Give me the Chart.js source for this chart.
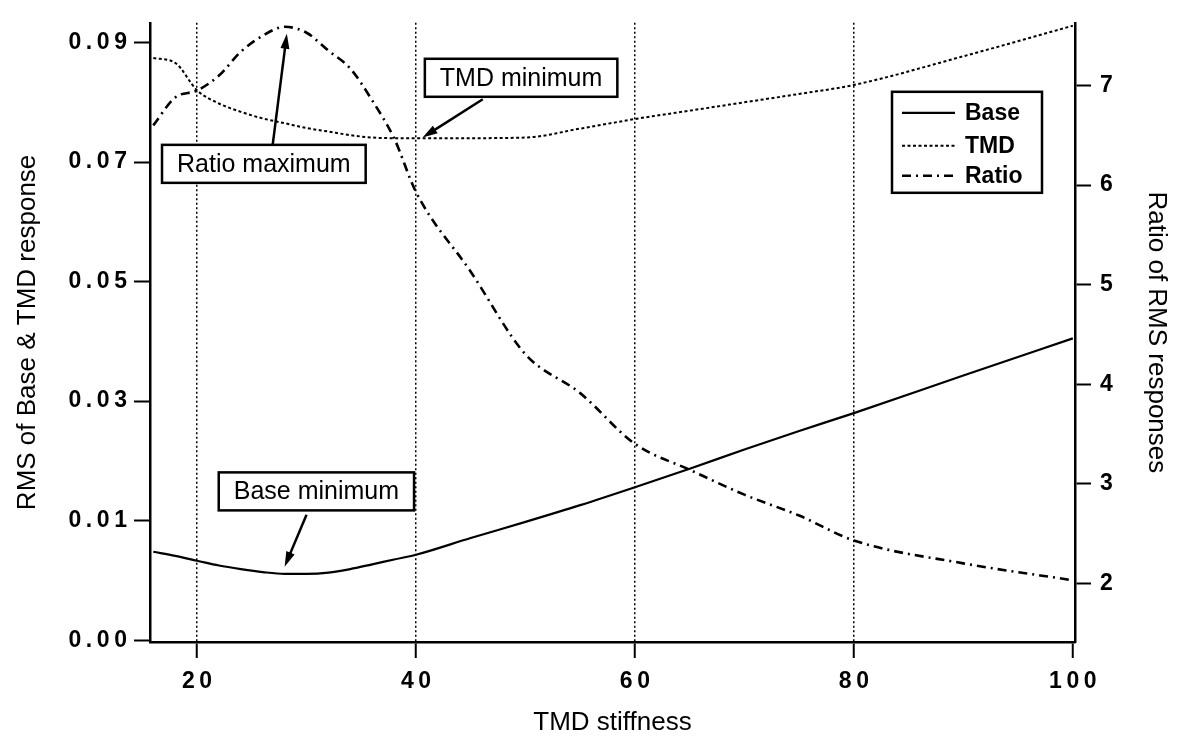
<!DOCTYPE html>
<html>
<head>
<meta charset="utf-8">
<script src="https://cdn.jsdelivr.net/npm/chart.js@4.4.1/dist/chart.umd.min.js"></script>
<style>
    html, body { margin: 0; padding: 0; background: #fff; }
</style>
</head>
<body>
<canvas id="myChart" width="1181" height="738"></canvas>
<script>
// values
var stiffness = [16, 18, 20, 22, 24, 26, 28, 30, 32, 34, 36, 38, 40, 45, 50, 55, 60, 65, 70, 75, 80, 90, 100];
var baseRms = [0.0048, 0.0041, 0.0033, 0.0025, 0.0019, 0.0014, 0.0011, 0.0011, 0.0013, 0.0019, 0.0027, 0.0035, 0.0043, 0.0071, 0.0098, 0.0126, 0.0156, 0.0187, 0.0219, 0.0250, 0.0280, 0.0343, 0.0405];
var tmdRms = [0.0874, 0.0866, 0.0820, 0.0798, 0.0784, 0.0773, 0.0765, 0.0757, 0.0751, 0.0745, 0.0741, 0.0740, 0.0740, 0.0740, 0.0741, 0.0756, 0.0772, 0.0786, 0.0800, 0.0814, 0.0829, 0.0877, 0.0928];
var ratioRms = [6.60, 6.88, 6.95, 7.10, 7.34, 7.50, 7.59, 7.53, 7.35, 7.17, 6.85, 6.47, 5.93, 5.13, 4.30, 3.91, 3.40, 3.14, 2.89, 2.68, 2.43, 2.20, 2.03];

var xTicks = [20, 40, 60, 80, 100];
var leftTickValues = [-0.01, 0.01, 0.03, 0.05, 0.07, 0.09];
var leftTickLabels = ["0.00", "0.01", "0.03", "0.05", "0.07", "0.09"];
var rightTicks = [2, 3, 4, 5, 6, 7];

var seriesNames = ["Base", "TMD", "Ratio"];

// callouts: box centre and arrow tail in left-axis units, arrow tip on its own axis
var notes = [
    { text: "Ratio maximum", x: 26.1, y: 0.0697, tailX: 26.9, tailY: 0.0728, tipX: 28.2, tipY: 7.52, tipAxis: "yRatio" },
    { text: "TMD minimum", x: 49.6, y: 0.0841, tailX: 46.1, tailY: 0.0805, tipX: 40.6, tipY: 0.0741, tipAxis: "y" },
    { text: "Base minimum", x: 30.9, y: 0.0149, tailX: 30.0, tailY: 0.0110, tipX: 28.0, tipY: 0.0023, tipAxis: "y" },
];

var FONT = "'Liberation Sans', Arial, sans-serif";
Chart.defaults.font.family = FONT;
Chart.defaults.color = "#000";

function spaced(s) {
    return s.split("").join("\u2009");
}

function toPoints(values) {
    var pts = [];
    for (var i = 0; i < stiffness.length; i++) {
        pts.push({ x: stiffness[i], y: values[i] });
    }
    return pts;
}

var dashes = {
    Base: [],
    TMD: [3, 2.5],
    Ratio: [9, 5, 2, 5],
};

function drawArrow(ctx, x1, y1, x2, y2) {
    var ang = Math.atan2(y2 - y1, x2 - x1);
    var head = 15;
    ctx.beginPath();
    ctx.moveTo(x1, y1);
    ctx.lineTo(x2 - Math.cos(ang) * head * 0.8, y2 - Math.sin(ang) * head * 0.8);
    ctx.stroke();
    ctx.beginPath();
    ctx.moveTo(x2, y2);
    ctx.lineTo(x2 - head * Math.cos(ang) + 4.5 * Math.sin(ang), y2 - head * Math.sin(ang) - 4.5 * Math.cos(ang));
    ctx.lineTo(x2 - head * Math.cos(ang) - 4.5 * Math.sin(ang), y2 - head * Math.sin(ang) + 4.5 * Math.cos(ang));
    ctx.closePath();
    ctx.fill();
}

var calloutPlugin = {
    id: "callouts",
    afterDatasetsDraw: function (chart) {
        var ctx = chart.ctx;
        var xs = chart.scales.x;
        ctx.save();
        ctx.font = "25px " + FONT;
        ctx.strokeStyle = "#000";
        ctx.fillStyle = "#000";
        ctx.lineWidth = 2.5;
        notes.forEach(function (n) {
            var cx = xs.getPixelForValue(n.x);
            var cy = chart.scales.y.getPixelForValue(n.y);
            var w = ctx.measureText(n.text).width + 30;
            var h = 38;
            ctx.fillStyle = "#fff";
            ctx.fillRect(cx - w / 2, cy - h / 2, w, h);
            ctx.strokeRect(cx - w / 2, cy - h / 2, w, h);
            ctx.fillStyle = "#000";
            ctx.textAlign = "center";
            ctx.textBaseline = "middle";
            ctx.fillText(n.text, cx, cy + 1);
            drawArrow(
                ctx,
                xs.getPixelForValue(n.tailX),
                chart.scales.y.getPixelForValue(n.tailY),
                xs.getPixelForValue(n.tipX),
                chart.scales[n.tipAxis].getPixelForValue(n.tipY)
            );
        });

        // legend box, top right inside the plot
        var area = chart.chartArea;
        var bx = area.right - 183;
        var by = area.top + 69;
        ctx.lineWidth = 2.5;
        ctx.fillStyle = "#fff";
        ctx.fillRect(bx, by, 150, 101);
        ctx.strokeRect(bx, by, 150, 101);
        ctx.fillStyle = "#000";
        ctx.font = "bold 23px " + FONT;
        ctx.textAlign = "left";
        var rows = [21, 54, 84];
        for (var i = 0; i < seriesNames.length; i++) {
            var ds = chart.data.datasets[i];
            ctx.setLineDash(ds.borderDash);
            ctx.lineWidth = ds.borderWidth;
            ctx.beginPath();
            ctx.moveTo(bx + 10, by + rows[i]);
            ctx.lineTo(bx + 63, by + rows[i]);
            ctx.stroke();
            ctx.setLineDash([]);
            ctx.fillText(seriesNames[i], bx + 73, by + rows[i] + 1);
        }
        ctx.restore();
    },
};

new Chart(document.getElementById("myChart"), {
    type: "line",
    data: {
        datasets: [
            {
                label: "Base",
                data: toPoints(baseRms),
                yAxisID: "y",
                borderColor: "#000",
                borderWidth: 2.2,
                borderDash: dashes.Base,
            },
            {
                label: "TMD",
                data: toPoints(tmdRms),
                yAxisID: "y",
                borderColor: "#000",
                borderWidth: 2,
                borderDash: dashes.TMD,
            },
            {
                label: "Ratio",
                data: toPoints(ratioRms),
                yAxisID: "yRatio",
                borderColor: "#000",
                borderWidth: 2.6,
                borderDash: dashes.Ratio,
            },
        ],
    },
    options: {
        responsive: false,
        devicePixelRatio: 1,
        animation: false,
        layout: { padding: { top: 10, left: 0, right: 0, bottom: 0 } },
        elements: {
            point: { radius: 0 },
            line: { cubicInterpolationMode: "monotone", fill: false },
        },
        plugins: {
            legend: { display: false },
            tooltip: { enabled: false },
        },
        scales: {
            x: {
                type: "linear",
                min: 15.7,
                max: 100.2,
                afterFit: function (scale) {
                    scale.height = 96;
                },
                afterBuildTicks: function (scale) {
                    scale.ticks = xTicks.map(function (v) {
                        return { value: v };
                    });
                },
                ticks: {
                    font: { size: 23, weight: "bold" },
                    padding: 10,
                    maxRotation: 0,
                    callback: function (value) {
                        return spaced(String(value));
                    },
                },
                grid: {
                    color: function (c) {
                        return c.tick && c.tick.value === 100 ? "rgba(0,0,0,0)" : "#000";
                    },
                    lineWidth: 1.5,
                    tickColor: "#000",
                    tickWidth: 2,
                    tickLength: 16,
                    tickBorderDash: [],
                },
                // in v4 border.dash is what dashes the grid lines
                border: { color: "#000", width: 2.5, dash: [2, 2.5] },
                title: {
                    display: true,
                    text: "TMD stiffness",
                    font: { size: 26 },
                    padding: { top: 5, bottom: 0 },
                },
            },
            y: {
                type: "linear",
                position: "left",
                min: -0.0103,
                max: 0.0933,
                afterFit: function (scale) {
                    scale.width = 150;
                },
                afterBuildTicks: function (scale) {
                    scale.ticks = leftTickValues.map(function (v) {
                        return { value: v };
                    });
                },
                ticks: {
                    font: { size: 23, weight: "bold" },
                    padding: 7,
                    callback: function (value, index) {
                        return spaced(leftTickLabels[index]);
                    },
                },
                grid: {
                    drawOnChartArea: false,
                    tickColor: "#000",
                    tickWidth: 2,
                    tickLength: 16,
                },
                border: { color: "#000", width: 2.5 },
                title: {
                    display: true,
                    text: "RMS of Base & TMD response",
                    font: { size: 26 },
                    padding: { top: 12, bottom: 0 },
                },
            },
            yRatio: {
                type: "linear",
                position: "right",
                min: 1.41,
                max: 7.63,
                afterFit: function (scale) {
                    scale.width = 106;
                },
                afterBuildTicks: function (scale) {
                    scale.ticks = rightTicks.map(function (v) {
                        return { value: v };
                    });
                },
                ticks: {
                    font: { size: 23, weight: "bold" },
                    padding: 9,
                },
                grid: {
                    drawOnChartArea: false,
                    tickColor: "#000",
                    tickWidth: 2,
                    tickLength: 16,
                },
                border: { color: "#000", width: 2.5 },
                title: {
                    display: true,
                    text: "Ratio of RMS responses",
                    font: { size: 26 },
                    padding: { top: 9, bottom: 0 },
                },
            },
        },
    },
    plugins: [calloutPlugin],
});
</script>
</body>
</html>
